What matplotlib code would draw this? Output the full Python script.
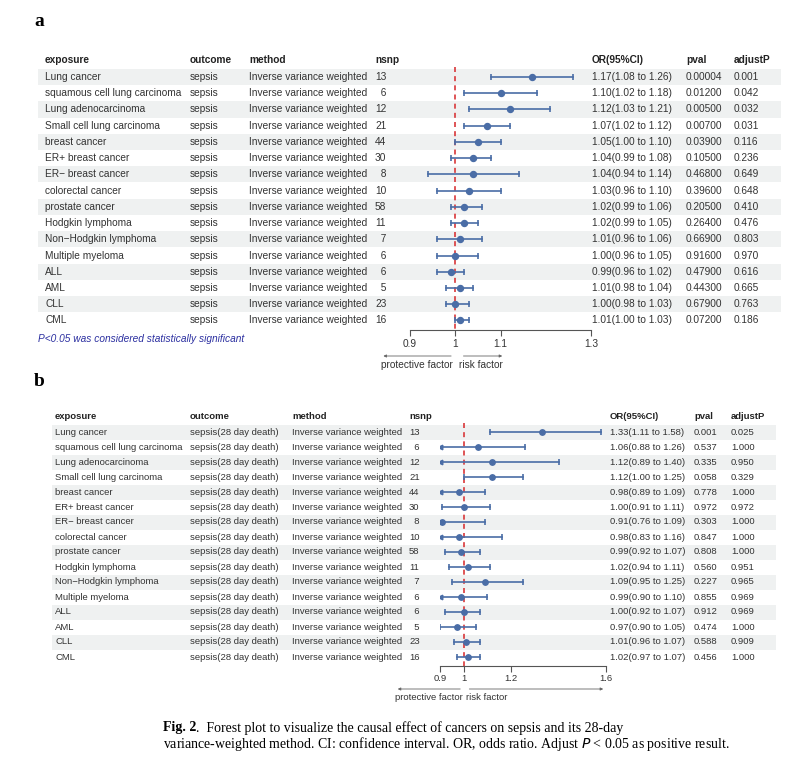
import matplotlib
matplotlib.use("Agg")
import matplotlib.pyplot as plt
from matplotlib.transforms import blended_transform_factory
from matplotlib.patches import Rectangle

plt.rcParams['font.family'] = ['Liberation Sans', 'DejaVu Sans']

W, H = 806, 761

exposures = ["Lung cancer", "squamous cell lung carcinoma", "Lung adenocarcinoma",
             "Small cell lung carcinoma", "breast cancer", "ER+ breast cancer",
             "ER\u2212 breast cancer", "colorectal cancer", "prostate cancer",
             "Hodgkin lymphoma", "Non\u2212Hodgkin lymphoma", "Multiple myeloma",
             "ALL", "AML", "CLL", "CML"]
nsnp = [13, 6, 12, 21, 44, 30, 8, 10, 58, 11, 7, 6, 6, 5, 23, 16]
method = "Inverse variance weighted"

# panel a: sepsis
a_outcome = "sepsis"
a_or = [1.17, 1.10, 1.12, 1.07, 1.05, 1.04, 1.04, 1.03, 1.02, 1.02, 1.01, 1.00, 0.99, 1.01, 1.00, 1.01]
a_lo = [1.08, 1.02, 1.03, 1.02, 1.00, 0.99, 0.94, 0.96, 0.99, 0.99, 0.96, 0.96, 0.96, 0.98, 0.98, 1.00]
a_hi = [1.26, 1.18, 1.21, 1.12, 1.10, 1.08, 1.14, 1.10, 1.06, 1.05, 1.06, 1.05, 1.02, 1.04, 1.03, 1.03]
a_pval = ["0.00004", "0.01200", "0.00500", "0.00700", "0.03900", "0.10500", "0.46800", "0.39600",
          "0.20500", "0.26400", "0.66900", "0.91600", "0.47900", "0.44300", "0.67900", "0.07200"]
a_adj = ["0.001", "0.042", "0.032", "0.031", "0.116", "0.236", "0.649", "0.648",
         "0.410", "0.476", "0.803", "0.970", "0.616", "0.665", "0.763", "0.186"]
a_ticks = [0.9, 1, 1.1, 1.3]

# panel b: sepsis 28 day death
b_outcome = "sepsis(28 day death)"
b_or = [1.33, 1.06, 1.12, 1.12, 0.98, 1.00, 0.91, 0.98, 0.99, 1.02, 1.09, 0.99, 1.00, 0.97, 1.01, 1.02]
b_lo = [1.11, 0.88, 0.89, 1.00, 0.89, 0.91, 0.76, 0.83, 0.92, 0.94, 0.95, 0.898, 0.92, 0.902, 0.96, 0.97]
b_hi = [1.58, 1.26, 1.40, 1.25, 1.09, 1.11, 1.09, 1.16, 1.07, 1.11, 1.25, 1.10, 1.07, 1.05, 1.07, 1.07]
b_pval = ["0.001", "0.537", "0.335", "0.058", "0.778", "0.972", "0.303", "0.847",
          "0.808", "0.560", "0.227", "0.855", "0.912", "0.474", "0.588", "0.456"]
b_adj = ["0.025", "1.000", "0.950", "0.329", "1.000", "0.972", "1.000", "1.000",
         "1.000", "0.951", "0.965", "0.969", "0.969", "1.000", "0.909", "1.000"]
b_ticks = [0.9, 1, 1.2, 1.6]

PT_COL = '#4a6da6'
TXT = '#333333'
SHADE = '#eff1f1'


def px(x):
    return x / W


def forest(fig, rect, xlim, ticks, orv, lo, hi, outcome, pval, adj,
           cols, shade_x, header_row, arrow_y, arrow_lx, arrow_rx, fs, ms):
    ax = fig.add_axes(rect)
    n = len(orv)
    ax.set_xlim(*xlim)
    ax.set_ylim(n - 0.4, -1.6)
    ax.patch.set_visible(False)
    for s in ['top', 'right', 'left']:
        ax.spines[s].set_visible(False)
    ax.spines['bottom'].set_color('#555555')
    ax.spines['bottom'].set_linewidth(0.8)
    ax.set_yticks([])
    ax.set_xticks(ticks)
    ax.set_xticklabels([f"{t:g}" for t in ticks], fontsize=fs, color=TXT)
    ax.tick_params(axis='x', length=4, width=0.8, color='#555555', pad=2)

    tr = blended_transform_factory(fig.transFigure, ax.transData)
    # shaded rows
    for i in range(0, n, 2):
        fig.patches.append(Rectangle((px(shade_x[0]), i - 0.5), px(shade_x[1] - shade_x[0]), 1,
                                     transform=tr, color=SHADE, zorder=-5, lw=0))

    # header
    heads = ["exposure", "outcome", "method", "nsnp", "OR(95%CI)", "pval", "adjustP"]
    for h, cx in zip(heads, cols):
        ax.text(px(cx), header_row, h, transform=tr, fontsize=fs, fontweight='bold',
                color='#222222', va='center', ha='left')

    for i in range(n):
        row = [exposures[i], outcome, method, f"{nsnp[i]:>2d}".replace(" ", "  "),
               f"{orv[i]:.2f}({lo[i]:.2f} to {hi[i]:.2f})", pval[i], adj[i]]
        for t, cx in zip(row, cols):
            ax.text(px(cx), i, t, transform=tr, fontsize=fs, color=TXT, va='center', ha='left')

    ax.vlines(1, -0.6, n - 0.4, colors='#d9373a', linestyles=(0, (3, 2.5)), lw=1.2, zorder=1)

    for i in range(n):
        l = max(lo[i], xlim[0])
        ax.plot([l, hi[i]], [i, i], color=PT_COL, lw=1.2, zorder=2)
        if lo[i] < xlim[0]:
            ax.plot(l, i, marker='<', color=PT_COL, ms=3.3, zorder=3)
        else:
            ax.plot(l, i, marker='|', color=PT_COL, ms=4.5, mew=1.2, zorder=3)
        ax.plot(hi[i], i, marker='|', color=PT_COL, ms=4.5, mew=1.2, zorder=3)
        ax.plot(orv[i], i, marker='o', color=PT_COL, ms=ms, zorder=4)

    # direction arrows
    atr = blended_transform_factory(ax.transData, fig.transFigure)
    ya = 1 - arrow_y / H
    ax.annotate("", xy=(arrow_lx, ya), xytext=(0.997, ya), xycoords=atr, textcoords=atr,
                arrowprops=dict(arrowstyle='-|>', color='#666666', lw=0.6, mutation_scale=4),
                annotation_clip=False)
    ax.annotate("", xy=(arrow_rx, ya), xytext=(1.012, ya), xycoords=atr, textcoords=atr,
                arrowprops=dict(arrowstyle='-|>', color='#666666', lw=0.6, mutation_scale=4),
                annotation_clip=False)
    ax.text(0.994, ya - 9 / H, "protective factor", transform=atr, fontsize=fs,
            color=TXT, ha='right', va='center')
    ax.text(1.008, ya - 9 / H, "risk factor", transform=atr, fontsize=fs,
            color=TXT, ha='left', va='center')
    return ax, tr


fig = plt.figure(figsize=(W / 100, H / 100), dpi=100)
fig.patch.set_facecolor('white')

# panel a : rows y=77..320.5 (16.23 px), axis line at y=330
ra = 16.23
top_a = 77 - 1.6 * ra
bot_a = 77 + (16 - 0.4) * ra
ax_a, tr_a = forest(fig, [px(410), 1 - bot_a / H, px(181), (bot_a - top_a) / H],
                    (0.9, 1.3), a_ticks, a_or, a_lo, a_hi, a_outcome, a_pval, a_adj,
                    cols=[45, 190, 249, 375, 592, 686, 734], shade_x=(38, 781),
                    header_row=(60 - 77) / ra, arrow_y=356, arrow_lx=0.835, arrow_rx=1.11,
                    fs=7.3, ms=4.3)
ax_a.text(px(38), 16.15, "P<0.05 was considered statistically significant", transform=tr_a,
          fontsize=7.3, color='#2b2fa0', style='italic', va='center', ha='left')

# panel b : rows y=432..657 (15 px), axis line at y=665
rb = 15.0
top_b = 432 - 1.6 * rb
bot_b = 432 + (16 - 0.4) * rb
ax_b, tr_b = forest(fig, [px(440), 1 - bot_b / H, px(166), (bot_b - top_b) / H],
                    (0.9, 1.6), b_ticks, b_or, b_lo, b_hi, b_outcome, b_pval, b_adj,
                    cols=[55, 190, 292, 409, 610, 694, 731], shade_x=(52, 776),
                    header_row=(416 - 432) / rb, arrow_y=689, arrow_lx=0.71, arrow_rx=1.6,
                    fs=6.8, ms=3.9)

fig.text(px(34), 1 - 21 / H, "a", fontsize=14, fontweight='bold', family='Liberation Serif',
         va='center', ha='left')
fig.text(px(34), 1 - 381 / H, "b", fontsize=14, fontweight='bold', family='Liberation Serif',
         va='center', ha='left')

cap1 = ".  Forest plot to visualize the causal effect of cancers on sepsis and its 28-day"
cap2 = "variance-weighted method. CI: confidence interval. OR, odds ratio. Adjust $P$ < 0.05 as positive result."
lbl = fig.text(px(163), 1 - 728 / H, "Fig. 2", fontsize=10, fontweight='bold',
               family='Liberation Serif', va='center', ha='left')
r = fig.canvas.get_renderer()
x_end = lbl.get_window_extent(renderer=r).x1 / W
fig.text(x_end, 1 - 728 / H, cap1, fontsize=10, family='Liberation Serif',
         va='center', ha='left')
fig.text(px(163), 1 - 744 / H, cap2, fontsize=10, family='Liberation Serif',
         va='center', ha='left')

fig.savefig("out.png", dpi=100)
